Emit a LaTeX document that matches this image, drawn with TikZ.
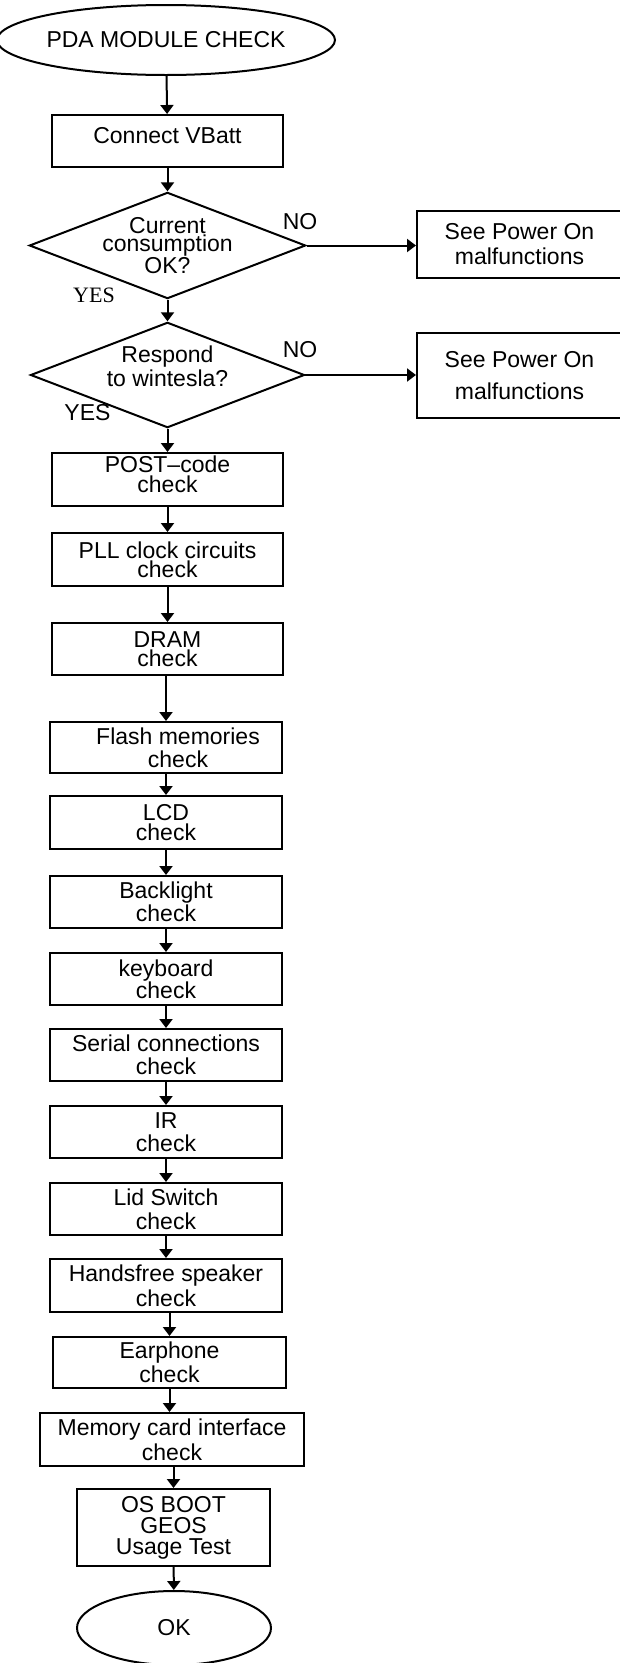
\documentclass[tikz,border=0pt]{standalone}
\usepackage{fontspec}
\setmainfont{Liberation Sans}
\newfontfamily\yesserif{Liberation Serif}
\usetikzlibrary{arrows.meta,positioning,shapes.geometric}
\tikzset{
  fc/base/.style={draw, line width=2pt, inner sep=0pt, align=center,
    font=\fontsize{23}{23}\selectfont},
  fc/terminal/.style={fc/base, ellipse},
  fc/process/.style={fc/base, rectangle, minimum width=231pt, minimum height=52pt},
  fc/decision/.style={fc/base, diamond, aspect=2.6, minimum width=269pt, minimum height=103pt},
  fc/label/.style={inner sep=0pt, font=\fontsize{23}{23}\selectfont},
  fc/arr/.style={line width=2pt, -{Triangle[length=9pt,width=13pt]}},
  fc/tight/.style={font=\fontsize{23}{#1}\selectfont}
}

\begin{document}
\begin{tikzpicture}[x=1pt, y=-1pt]
  \useasboundingbox (0,0) rectangle (620,1663);

  \node[fc/terminal, minimum width=308pt, minimum height=70pt] (start) at (166,40) {PDA MODULE CHECK};
  \node[fc/process, text depth=12pt] (vbatt) at (167.5,141) {Connect VBatt};
  \node[fc/decision, fc/tight=18] (current) at (167.5,245.5) {Current\\consumption\\OK?};
  \node[fc/process, minimum width=205pt, minimum height=67pt, fc/tight=25] (power1) at (519.5,244.5) {See Power On\\malfunctions};
  \node[fc/decision, fc/tight=24, minimum height=104pt] (respond) at (167.5,375) {Respond\\to wintesla?\\[-6pt]};
  \node[fc/process, minimum width=205pt, minimum height=85pt, fc/tight=32] (power2) at (519.5,375.5) {See Power On\\malfunctions};

  \node[fc/label] (no1) at (300,222) {NO};
  \node[fc/label, font=\yesserif\fontsize{22}{22}\selectfont] (yes1) at (94,295) {YES};
  \node[fc/label] (no2) at (300,350) {NO};
  \node[fc/label] (yes2) at (87.5,413) {YES};

  % test chain
  \node[fc/process, minimum height=53pt, fc/tight=20, text depth=10pt] (post) at (167.5,479.5) {POST--code\\check};
  \node[fc/process, minimum height=53pt, fc/tight=19] (pll) at (167.5,559.5) {PLL clock circuits\\check};
  \node[fc/process, fc/tight=19] (dram) at (167.5,649) {DRAM\\check};
  \node[fc/process, minimum width=232pt, minimum height=51pt, fc/tight=23] (flash) at (166,747.5) {\hspace*{24pt}Flash memories\\\hspace*{24pt}check};
  \node[fc/process, minimum width=232pt, minimum height=53pt, fc/tight=20] (lcd) at (166,822.5) {LCD\\check};
  \node[fc/process, minimum width=232pt, fc/tight=23] (backl) at (166,902) {Backlight\\check};
  \node[fc/process, minimum width=232pt, fc/tight=22] (keyb) at (166,979) {keyboard\\check};
  \node[fc/process, minimum width=232pt, fc/tight=23] (serial) at (166,1055) {Serial connections\\check};
  \node[fc/process, minimum width=232pt, fc/tight=23] (irda) at (166,1132) {IR\\check};
  \node[fc/process, minimum width=232pt, fc/tight=24] (lid) at (166,1209) {Lid Switch\\check};
  \node[fc/process, minimum width=232pt, minimum height=53pt, fc/tight=25] (hands) at (166,1285.5) {Handsfree speaker\\check};
  \node[fc/process, minimum width=233pt, minimum height=51pt, fc/tight=24] (earph) at (169.5,1362.5) {Earphone\\check};
  \node[fc/process, minimum width=264pt, minimum height=53pt, fc/tight=25] (memcard) at (172,1439.5) {Memory card interface\\check};
  \node[fc/process, minimum width=193pt, minimum height=77pt, fc/tight=21] (osboot) at (173.5,1527.5) {OS BOOT\\GEOS\\Usage Test};
  \node[fc/terminal, minimum width=194pt, minimum height=74pt] (ok) at (174,1628) {OK};

  \draw[fc/arr] (start) -- (vbatt);
  \draw[fc/arr] (vbatt) -- (current);
  \draw[fc/arr] (current) -- (respond);
  \draw[fc/arr] (current.east) -- (power1.west |- current.east);
  \draw[fc/arr] (respond.east) -- (power2.west |- respond.east);
  \draw[fc/arr] (respond.south) -- (post.north);
  \draw[fc/arr] (post) -- (pll);
  \draw[fc/arr] (pll) -- (dram);
  \draw[fc/arr] (dram.south -| flash) -- (flash.north);
  \draw[fc/arr] (flash) -- (lcd);
  \draw[fc/arr] (lcd) -- (backl);
  \draw[fc/arr] (backl) -- (keyb);
  \draw[fc/arr] (keyb) -- (serial);
  \draw[fc/arr] (serial) -- (irda);
  \draw[fc/arr] (irda) -- (lid);
  \draw[fc/arr] (lid) -- (hands);
  \draw[fc/arr] (hands.south -| earph) -- (earph.north);
  \draw[fc/arr] (earph) -- (earph |- memcard.north);
  \draw[fc/arr] (memcard.south -| osboot) -- (osboot.north);
  \draw[fc/arr] (osboot) -- (ok);
\end{tikzpicture}
\end{document}
